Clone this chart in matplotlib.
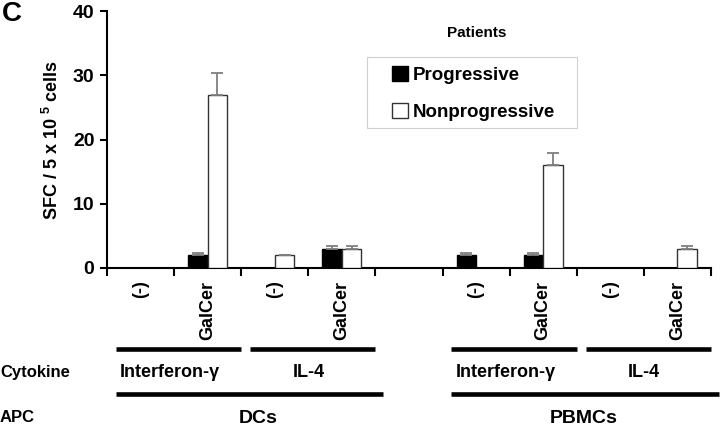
import matplotlib
matplotlib.use("Agg")
import matplotlib.pyplot as plt
from matplotlib.patches import Patch, Rectangle
import numpy as np

plt.rcParams['font.family'] = ['Liberation Sans', 'DejaVu Sans']
plt.rcParams['font.weight'] = 'bold'
plt.rcParams['mathtext.fontset'] = 'custom'
for k in ['rm', 'it', 'bf', 'sf', 'tt', 'cal']:
    plt.rcParams['mathtext.' + k] = 'Liberation Sans:bold'
plt.rcParams['mathtext.default'] = 'bf'

# 9 slots along the x axis, slot 4 is an empty spacer
slot_labels = ['(-)', 'GalCer', '(-)', 'GalCer', '', '(-)', 'GalCer', '(-)', 'GalCer']
progressive = [0, 2, 0, 3, 0, 2, 2, 0, 0]
progressive_err = [0, 0.3, 0, 0.5, 0, 0.3, 0.3, 0, 0]
nonprogressive = [0, 27, 2, 3, 0, 0, 16, 0, 3]
nonprogressive_err = [0, 3.3, 0.1, 0.4, 0, 0, 1.9, 0, 0.4]

cytokine_labels = ['Interferon-γ', 'IL-4', 'Interferon-γ', 'IL-4']
cytokine_spans = [(0, 2), (2, 4), (5, 7), (7, 9)]
apc_labels = ['DCs', 'PBMCs']
apc_spans = [(0, 4), (5, 9)]

fig = plt.figure(figsize=(7.2, 4.3), dpi=100)
ax = fig.add_axes([107 / 720, 1 - 268 / 430, 604 / 720, 257 / 430])

x = np.arange(len(slot_labels)) + 0.5
w = 0.29
err_kw = dict(ecolor='#7f7f7f', elinewidth=1.3, capsize=4, capthick=1.3)
for i in range(len(x)):
    if progressive[i] > 0:
        ax.bar(x[i] - w / 2, progressive[i], w, color='black', edgecolor='black',
               yerr=[[0], [progressive_err[i]]], error_kw=err_kw, zorder=3)
    if nonprogressive[i] > 0:
        ax.bar(x[i] + w / 2, nonprogressive[i], w, color='white', edgecolor='#333333',
               linewidth=1, yerr=[[0], [nonprogressive_err[i]]], error_kw=err_kw, zorder=3)

ax.set_xlim(0, 9)
ax.set_ylim(0, 40)
ax.set_yticks([0, 10, 20, 30, 40])
ax.set_yticklabels(['0', '10', '20', '30', '40'], fontsize=14, fontweight='bold')
ax.set_xticks(np.arange(10))
ax.set_xticklabels([])
ax.set_xticks(x, minor=True)
ax.set_xticklabels(slot_labels, minor=True, rotation=90, va='top', fontsize=13,
                   fontweight='bold')
ax.tick_params(axis='x', which='minor', length=0, pad=9)
ax.tick_params(axis='x', which='major', length=6, width=1.5, direction='out')
ax.tick_params(axis='y', length=5, width=1.5, direction='out', pad=4)
for s in ['top', 'right']:
    ax.spines[s].set_visible(False)
for s in ['left', 'bottom']:
    ax.spines[s].set_linewidth(1.5)

ax.set_ylabel(r'SFC / 5 x 10 $^{5}$ cells', fontsize=13, fontweight='bold', labelpad=8)

# group bars and labels under the axis
tr = ax.get_xaxis_transform()
for (a, b), lab in zip(cytokine_spans, cytokine_labels):
    ax.plot([a + 0.13, b], [-0.315, -0.315], color='black', lw=3.3,
            transform=tr, clip_on=False, solid_capstyle='butt')
    ax.text(a + 0.94 if lab != 'IL-4' else a + 1.0, -0.405, lab, transform=tr,
            ha='center', va='center', fontsize=13, fontweight='bold')
for (a, b), lab in zip(apc_spans, apc_labels):
    ax.plot([a + 0.13, b + 0.12], [-0.49, -0.49], color='black', lw=3.3,
            transform=tr, clip_on=False, solid_capstyle='butt')
    ax.text((a + b) / 2 + 0.25 if lab == 'DCs' else (a + b) / 2 + 0.1, -0.584, lab,
            transform=tr, ha='center', va='center', fontsize=14, fontweight='bold')

fig.text(0.0, 1 - 372 / 430, 'Cytokine', ha='left', va='center', fontsize=12,
         fontweight='bold')
fig.text(0.0, 1 - 418 / 430, 'APC', ha='left', va='center', fontsize=12,
         fontweight='bold')
fig.text(0.002, 1 - 14 / 430, 'C', ha='left', va='center', fontsize=20,
         fontweight='bold')

fig.text(477 / 720, 1 - 33 / 430, 'Patients', ha='center', va='center', fontsize=11,
         fontweight='bold')
ax.add_patch(Rectangle((367 / 720, 1 - 128 / 430), 210 / 720, 71 / 430,
                       transform=fig.transFigure, facecolor='white',
                       edgecolor='#d0d0d0', linewidth=0.8, zorder=4, clip_on=False))
handles = [Patch(facecolor='black', edgecolor='black', label='Progressive'),
           Patch(facecolor='white', edgecolor='#333333', label='Nonprogressive')]
leg = ax.legend(handles=handles, loc='upper left',
                bbox_to_anchor=(392 / 720, 1 - 66 / 430), bbox_transform=fig.transFigure,
                prop={'size': 13.5, 'weight': 'bold'}, frameon=False,
                handlelength=0.85, handleheight=0.85, handletextpad=0.25,
                labelspacing=1.0, borderpad=0, borderaxespad=0)
leg.set_zorder(5)

fig.savefig('out.png', dpi=100)
